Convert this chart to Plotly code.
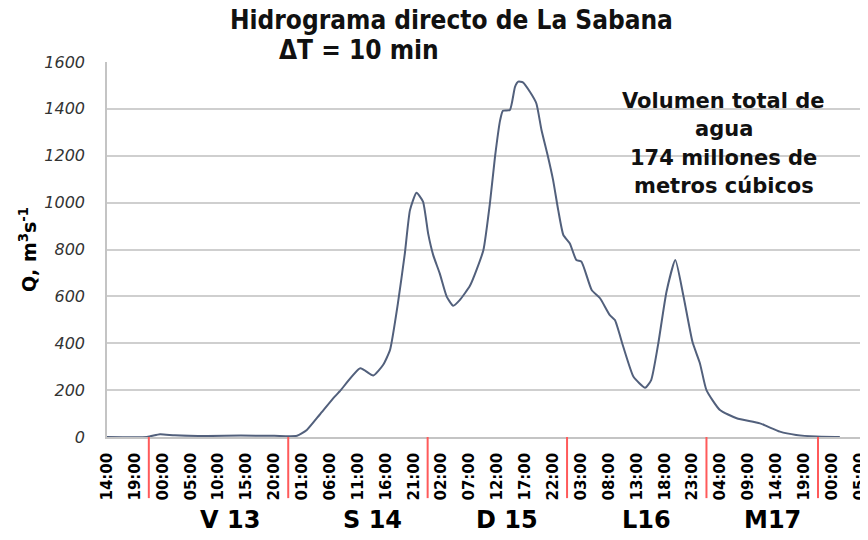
import plotly.graph_objects as go

tiempo = [
    "2010-08-12 14:00", "2010-08-12 21:10", "2010-08-12 23:30", "2010-08-13 02:10",
    "2010-08-13 08:00", "2010-08-13 14:00", "2010-08-13 20:00", "2010-08-14 00:05",
    "2010-08-14 01:50", "2010-08-14 04:10", "2010-08-14 06:50", "2010-08-14 07:45",
    "2010-08-14 11:25", "2010-08-14 13:45", "2010-08-14 15:30", "2010-08-14 16:45",
    "2010-08-14 18:10", "2010-08-14 19:25", "2010-08-14 20:20", "2010-08-14 21:30",
    "2010-08-14 22:40", "2010-08-14 23:35", "2010-08-15 00:30", "2010-08-15 01:40",
    "2010-08-15 02:55", "2010-08-15 04:05", "2010-08-15 05:15", "2010-08-15 07:05",
    "2010-08-15 08:15", "2010-08-15 09:30", "2010-08-15 10:40", "2010-08-15 11:35",
    "2010-08-15 12:30", "2010-08-15 13:00", "2010-08-15 14:15", "2010-08-15 15:10",
    "2010-08-15 15:45", "2010-08-15 16:35", "2010-08-15 17:50", "2010-08-15 19:00",
    "2010-08-15 19:55", "2010-08-15 21:05", "2010-08-15 22:00", "2010-08-15 22:55",
    "2010-08-15 23:50", "2010-08-16 01:00", "2010-08-16 02:10", "2010-08-16 03:05",
    "2010-08-16 04:55", "2010-08-16 06:25", "2010-08-16 08:10", "2010-08-16 09:05",
    "2010-08-16 10:35", "2010-08-16 12:25", "2010-08-16 14:30", "2010-08-16 15:35",
    "2010-08-16 16:50", "2010-08-16 18:20", "2010-08-16 19:55", "2010-08-16 21:20",
    "2010-08-16 23:00", "2010-08-17 00:20", "2010-08-17 01:30", "2010-08-17 03:55",
    "2010-08-17 06:55", "2010-08-17 11:05", "2010-08-17 14:40", "2010-08-17 17:35",
    "2010-08-17 21:10", "2010-08-18 01:25",
]
caudal = [
    0, 0, 12, 7,
    4, 6, 5, 5,
    30, 96, 172, 195,
    293, 262, 307, 371,
    570, 784, 968, 1042,
    1004, 869, 776, 698,
    599, 560, 584, 645,
    712, 798, 997, 1196,
    1352, 1392, 1395, 1494,
    1516, 1513, 1473, 1423,
    1310, 1196, 1096, 968,
    862, 826, 755, 748,
    627, 592, 520, 499,
    385, 257, 210, 243,
    395, 620, 755, 606,
    405, 314, 200, 115,
    80, 58, 23, 9,
    2, 0,
]

x_inicio = "2010-08-12 14:00"
x_fin = "2010-08-18 05:02"

separadores = ["2010-08-12 21:30", "2010-08-13 22:30", "2010-08-14 23:30",
               "2010-08-16 00:30", "2010-08-17 01:30", "2010-08-17 21:30"]
dias = ["V 13", "S 14", "D 15", "L16", "M17"]
dias_x = ["2010-08-13 12:00", "2010-08-14 13:40", "2010-08-15 13:40",
          "2010-08-16 14:50", "2010-08-17 13:25"]

nota = ["Volumen total de", "agua", "174 millones de", "metros cúbicos"]

FONT = "DejaVu Sans"
FONT_C = "DejaVu Sans Condensed"

fig = go.Figure()
fig.add_trace(go.Scatter(
    x=tiempo, y=caudal, mode="lines",
    line=dict(color="#52607c", width=2, shape="spline", smoothing=0.5),
    hoverinfo="skip", showlegend=False,
))

# lineas rojas que separan los dias
for s in separadores:
    fig.add_shape(type="line", xref="x", yref="paper", x0=s, x1=s, y0=0, y1=-0.163,
                  line=dict(color="#ff5a5a", width=2))

# caja blanca bajo la nota y hueco en la linea superior
fig.add_shape(type="rect", xref="paper", yref="y", x0=0.631, x1=1.0, y0=880, y1=1520,
              fillcolor="white", line_width=0, layer="between")
fig.add_shape(type="rect", xref="paper", yref="paper", x0=0.452, x1=0.666, y0=0.99, y1=1.012,
              fillcolor="white", line_width=0, layer="between")

for d, dx in zip(dias, dias_x):
    fig.add_annotation(x=dx, xref="x", y=-0.221, yref="paper", text=d, showarrow=False,
                       xanchor="center", yanchor="middle",
                       font=dict(family=FONT, size=24, color="black", weight="bold"))

for i, linea in enumerate(nota):
    fig.add_annotation(x=0.819, xref="paper", y=0.896 - i * 0.0755, yref="paper",
                       text=linea, showarrow=False, xanchor="center", yanchor="middle",
                       font=dict(family=FONT, size=21, color="#111111", weight="bold"))

fig.add_annotation(x=0.457, xref="paper", y=1.112, yref="paper",
                   text="Hidrograma directo de La Sabana", showarrow=False,
                   xanchor="center", yanchor="middle",
                   font=dict(family=FONT_C, size=26, color="#111111", weight="bold"))
fig.add_annotation(x=0.2258, xref="paper", xanchor="left", y=1.032, yref="paper",
                   yanchor="middle", text="ΔT = 10 min", showarrow=False,
                   font=dict(family=FONT_C, size=26, color="#111111", weight="bold"))

fig.update_xaxes(
    type="date", range=[x_inicio, x_fin], automargin=False,
    tick0=x_inicio, dtick=5 * 3600 * 1000, tickformat="%H:%M", tickangle=-90,
    ticks="", ticklabelstandoff=8, ticklabeloverflow="allow",
    tickfont=dict(family=FONT, size=15, color="black", weight="bold"),
    showgrid=False, showline=True, linecolor="#c4c4c4", linewidth=1.5, zeroline=False,
)
fig.update_yaxes(
    range=[0, 1600], dtick=200, ticks="", ticklabelstandoff=17, automargin=False,
    tickfont=dict(family=FONT, size=16, color="#333333", style="italic"),
    showgrid=True, gridcolor="#cfcfcf", gridwidth=1.5,
    showline=True, linecolor="#c4c4c4", linewidth=1.5, zeroline=False,
    title=dict(text="Q, m<sup>3</sup>s<sup>-1</sup>", standoff=3,
               font=dict(family=FONT, size=19, color="black", weight="bold")),
)
# la pagina deja 8 px de margen: figura de 860x532 para llenar la ventana
fig.update_layout(
    width=860, height=532,
    margin=dict(l=99, r=8, t=54, b=103),
    plot_bgcolor="white", paper_bgcolor="white",
    showlegend=False,
)

fig.write_html("out.html")
